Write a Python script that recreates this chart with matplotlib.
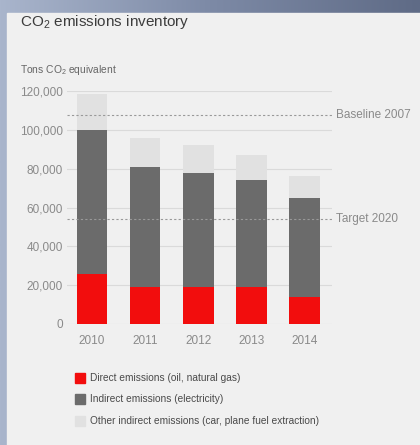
import numpy as np
import matplotlib.pyplot as plt
from matplotlib.patches import Rectangle
from matplotlib.colors import LinearSegmentedColormap

years = ["2010", "2011", "2012", "2013", "2014"]
direct = [26000, 19000, 18800, 19300, 13700]
indirect_total = [100000, 81000, 78000, 74000, 65000]   # top of dark bar
grand_total = [118500, 96000, 92200, 87200, 76200]      # top of light bar
baseline_2007 = 107500
target_2020 = 54000
legend_labels = ["Direct emissions (oil, natural gas)",
                 "Indirect emissions (electricity)",
                 "Other indirect emissions (car, plane fuel extraction)"]

indirect = [t - d for t, d in zip(indirect_total, direct)]
other = [g - t for g, t in zip(grand_total, indirect_total)]

plt.rcParams['font.family'] = ['Liberation Sans', 'DejaVu Sans']
plt.rcParams['mathtext.fontset'] = 'custom'
plt.rcParams['mathtext.rm'] = 'Liberation Sans'
plt.rcParams['mathtext.it'] = 'Liberation Sans:italic'

W, H = 420, 445
fig = plt.figure(figsize=(W / 100, H / 100), dpi=100)

# blue-gray frame with a gradient
bg = fig.add_axes([0, 0, 1, 1])
grad = np.linspace(0, 1, 256).reshape(1, -1)
cmap = LinearSegmentedColormap.from_list("frame", ["#a9b5cc", "#7d8aa6", "#5f6b86"])
bg.imshow(grad, aspect="auto", cmap=cmap, extent=[0, 1, 0, 1])
bg.set_xlim(0, 1)
bg.set_ylim(0, 1)
bg.axis("off")
bg.add_patch(Rectangle((7 / W, 0), 1, 1 - 13 / H, color="#f0f0f0", zorder=2))

ax = fig.add_axes([67 / W, 1 - 324 / H, (332 - 67) / W, (324 - 91) / H])
ax.set_facecolor("none")
x = np.arange(len(years))
w = 0.58
ax.bar(x, direct, w, color="#f20d0d", zorder=3)
ax.bar(x, indirect, w, bottom=direct, color="#6b6b6b", zorder=3)
ax.bar(x, other, w, bottom=indirect_total, color="#e1e1e1", zorder=3)

ax.set_xlim(-0.47, 4.52)
ax.set_ylim(0, 120000)
ax.set_yticks(range(0, 120001, 20000))
ax.set_yticklabels([f"{v:,}" for v in range(0, 120001, 20000)])
ax.set_xticks(x)
ax.set_xticklabels(years)
ax.grid(axis="y", color="#dadada", linewidth=0.8, zorder=0)
ax.tick_params(length=0, colors="#8a8a8a", labelsize=8.5)
ax.tick_params(axis="y", pad=3)
ax.tick_params(axis="x", pad=8)
for s in ax.spines.values():
    s.set_visible(False)

for val, lab in [(baseline_2007, "Baseline 2007"), (target_2020, "Target 2020")]:
    ax.plot([-0.47, 4.52], [val, val], ls=(0, (2, 2)), color="#999999", lw=0.8,
            zorder=4, clip_on=False)
    ax.text(4.6, val, lab, ha="left", va="center", color="#8a8a8a", fontsize=8.5)

fig.text(20 / W, 1 - 22 / H, "CO$_2$ emissions inventory", ha="left", va="center",
         fontsize=11, color="#3c3c3c")
fig.text(20 / W, 1 - 70 / H, "Tons CO$_2$ equivalent", ha="left", va="center",
         fontsize=7.4, color="#666666")

leg_colors = ["#f20d0d", "#6b6b6b", "#e1e1e1"]
leg_y = [378, 399, 421]
for c, yy, lab in zip(leg_colors, leg_y, legend_labels):
    fig.patches.append(Rectangle((75 / W, 1 - (yy + 5) / H), 10 / W, 10 / H,
                                 color=c, transform=fig.transFigure, figure=fig))
    fig.text(90 / W, 1 - yy / H, lab, ha="left", va="center", fontsize=7.3, color="#4a4a4a")

fig.savefig("out.png", dpi=100)
